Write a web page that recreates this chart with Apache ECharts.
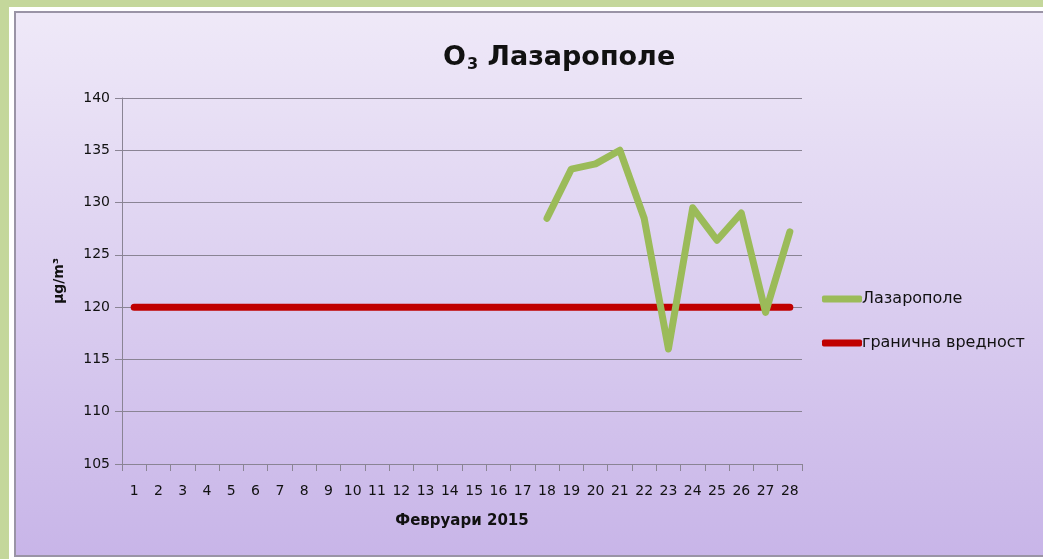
<!DOCTYPE html>
<html lang="mk">
<head>
    <meta charset="utf-8">
    <script src="https://cdn.jsdelivr.net/npm/echarts@6/dist/echarts.min.js"></script>
    <style>
        html, body {
            margin: 0;
            height: 100%;
            overflow: hidden;
            background-color: #c4d79b;
        }

        #frame {
            position: absolute;
            left: 9px;
            top: 7px;
            width: 1100px;
            height: 552px;
            background-color: #ffffff;
        }

        #container {
            position: absolute;
            left: 14px;
            top: 11px;
            width: 1040px;
            height: 542px;
            border: 2px solid #9a94a6;
        }
    </style>
</head>
<body>
    <div id="frame"></div>
    <div id="container"></div>

    <script type="text/javascript">
        // дни во февруари
        const days = [];
        for (let d = 1; d <= 28; d++) days.push(String(d));

        // O3 Лазарополе, µg/m3 (мерења од 18 до 28)
        const lazaropole = [null, null, null, null, null, null, null, null, null, null,
            null, null, null, null, null, null, null,
            128.5, 133.2, 133.7, 135.0, 128.5, 116.0, 129.5, 126.4, 129.0, 119.5, 127.2];

        // гранична вредност
        const limitValue = [120, 120, 120, 120, 120, 120, 120, 120, 120, 120,
            120, 120, 120, 120, 120, 120, 120, 120, 120, 120,
            120, 120, 120, 120, 120, 120, 120, 120];

        const yTicks = { min: 105, max: 140, step: 5 };

        const font = 'DejaVu Sans';
        const chart = echarts.init(document.getElementById('container'));

        chart.setOption({
            animation: false,
            backgroundColor: {
                type: 'linear', x: 0, y: 0, x2: 0, y2: 1,
                colorStops: [
                    { offset: 0, color: '#efe9f8' },
                    { offset: 1, color: '#c8b5e8' }
                ]
            },
            title: {
                text: '{b|O}{s|3}{b| Лазарополе}',
                left: 422,
                top: 25,
                textStyle: {
                    rich: {
                        b: { fontFamily: font, fontWeight: 'bold', fontSize: 27, color: '#111' },
                        s: { fontFamily: font, fontWeight: 'bold', fontSize: 16, color: '#111', padding: [14, 0, 0, 1] }
                    }
                }
            },
            legend: {
                orient: 'vertical',
                left: 806,
                top: 278,
                padding: 0,
                icon: 'roundRect',
                itemWidth: 40,
                itemHeight: 7,
                itemGap: 28,
                textStyle: { fontFamily: font, fontSize: 16, color: '#111', padding: [0, 0, 0, -5] },
                data: ['Лазарополе', 'гранична вредност']
            },
            grid: {
                left: 106,
                top: 85,
                width: 680,
                height: 366
            },
            xAxis: {
                type: 'category',
                data: days,
                boundaryGap: true,
                name: 'Февруари 2015',
                nameLocation: 'middle',
                nameGap: 50,
                nameTextStyle: { fontFamily: font, fontWeight: 'bold', fontSize: 15, color: '#111' },
                axisLine: { lineStyle: { color: '#8a8494', width: 1 } },
                axisTick: { show: true, length: 7, lineStyle: { color: '#8a8494' } },
                axisLabel: { fontFamily: font, fontSize: 14, color: '#111', margin: 20, interval: 0 },
                splitLine: { show: false }
            },
            yAxis: {
                type: 'value',
                min: yTicks.min,
                max: yTicks.max,
                interval: yTicks.step,
                name: 'µg/m³',
                nameLocation: 'middle',
                nameGap: 56,
                nameRotate: 90,
                nameTextStyle: { fontFamily: font, fontWeight: 'bold', fontSize: 14, color: '#111' },
                axisLine: { show: true, lineStyle: { color: '#8a8494', width: 1 } },
                axisTick: { show: true, length: 7, lineStyle: { color: '#8a8494' } },
                axisLabel: { fontFamily: font, fontSize: 14, color: '#111', margin: 12 },
                splitLine: { show: true, lineStyle: { color: '#8a8494', width: 1 } }
            },
            series: [
                {
                    name: 'Лазарополе',
                    type: 'line',
                    data: lazaropole,
                    symbol: 'none',
                    connectNulls: false,
                    z: 3,
                    lineStyle: { color: '#9bbb59', width: 7, cap: 'round', join: 'round' },
                    itemStyle: { color: '#9bbb59' }
                },
                {
                    name: 'гранична вредност',
                    type: 'line',
                    data: limitValue,
                    symbol: 'none',
                    z: 2,
                    lineStyle: { color: '#c00000', width: 7, cap: 'round' },
                    itemStyle: { color: '#c00000' }
                }
            ]
        });

        window.addEventListener('resize', chart.resize);
    </script>
</body>
</html>
